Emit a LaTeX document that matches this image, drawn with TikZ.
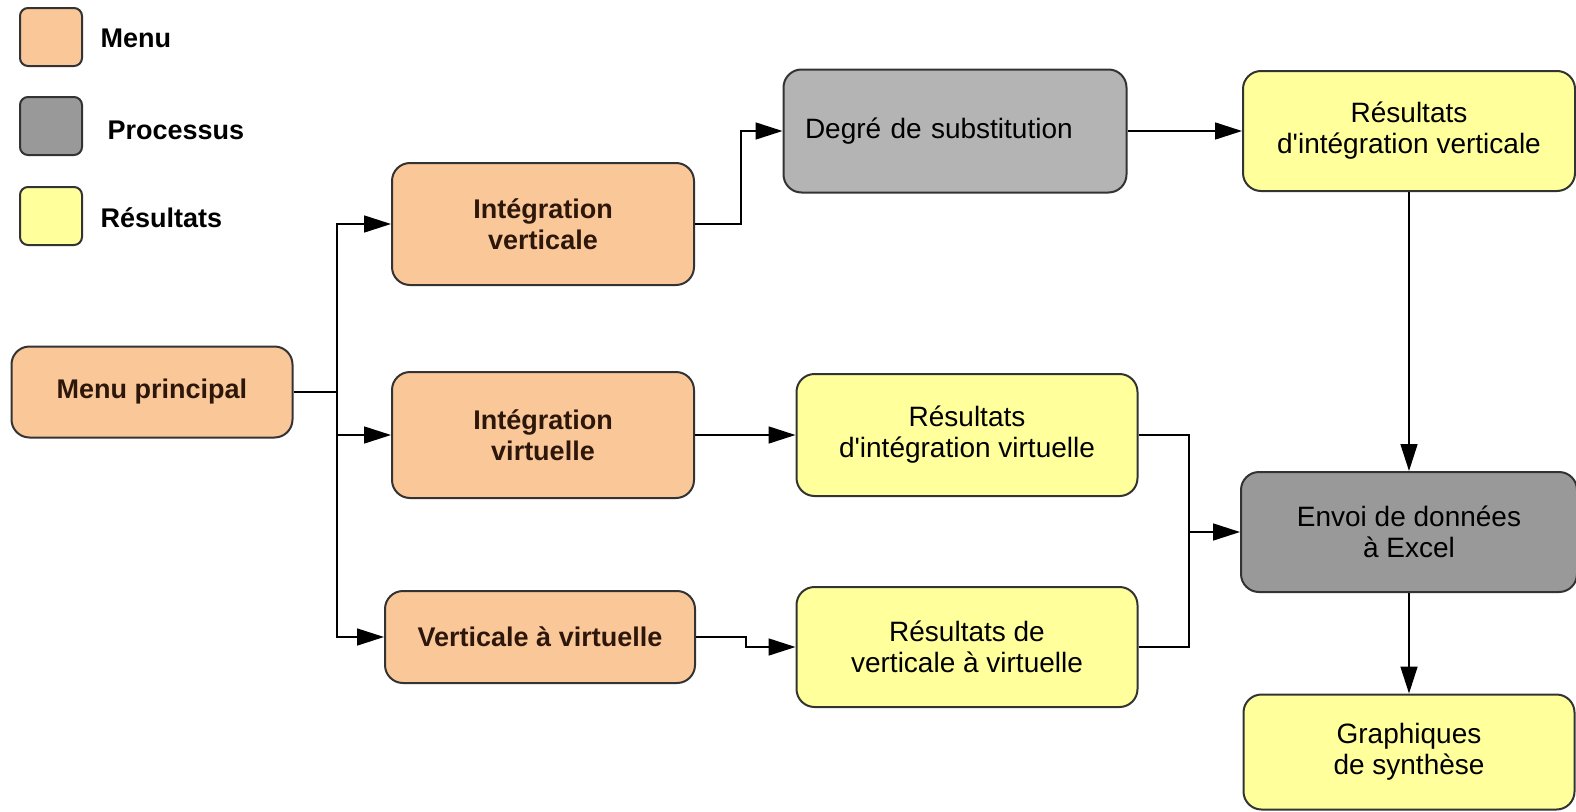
\documentclass[tikz,border=0pt]{standalone}
\usepackage{fontspec}
\setmainfont{Liberation Sans}
\usetikzlibrary{arrows.meta}
\definecolor{menucol}{RGB}{250,200,152}
\definecolor{proclight}{RGB}{180,180,180}
\definecolor{procdark}{RGB}{153,153,153}
\definecolor{rescol}{RGB}{255,255,155}
\definecolor{menutext}{RGB}{45,22,10}
\begin{document}
\begin{tikzpicture}[x=1pt, y=-1pt,
    box/.style={draw=black!80, line width=2pt, rounded corners=18pt, align=center,
      inner sep=0pt, font=\fontsize{28}{31}\selectfont},
    menu/.style={box, fill=menucol, text=menutext, font=\bfseries\fontsize{27}{31}\selectfont},
    proc/.style={box, fill=proclight},
    res/.style={box, fill=rescol},
    legbox/.style={draw=black!80, line width=2pt, rounded corners=8pt,
      minimum width=62pt, minimum height=58pt},
    legtext/.style={anchor=west, font=\bfseries\fontsize{27}{31}\selectfont},
    arr/.style={-{Triangle[length=27pt,width=17pt]}, line width=1.6pt},
    link/.style={line width=1.6pt}]
    \useasboundingbox (0,0) rectangle (1576,811);

    % legende
    \node[legbox, fill=menucol] (lmenu) at (51,37) {};
    \node[legtext] (tmenu) at (97,38) {Menu};
    \node[legbox, fill=procdark] (lproc) at (51,126) {};
    \node[legtext] (tproc) at (104,130) {Processus};
    \node[legbox, fill=rescol] (lres) at (51,216) {};
    \node[legtext] (tres) at (97,218) {Résultats};

    % menus
    \node[menu, minimum width=281pt, minimum height=91pt] (mp) at (152,392) {Menu principal};
    \node[menu, minimum width=302pt, minimum height=122pt] (iv) at (543,224) {Intégration\\verticale};
    \node[menu, minimum width=302pt, minimum height=126pt] (ivi) at (543,435) {Intégration\\virtuelle};
    \node[menu, minimum width=310pt, minimum height=92pt] (vv) at (540,637) {Verticale à virtuelle};

    % processus et resultats
    \node[proc, minimum width=343pt, minimum height=123pt, text width=300pt, align=left] (ds) at (955,131) {Degré de substitution};
    \node[res, minimum width=332pt, minimum height=120pt] (riv) at (1409,131) {Résultats\\d\textquotesingle intégration verticale};
    \node[res, minimum width=341pt, minimum height=122pt] (rvi) at (967,435) {Résultats\\d\textquotesingle intégration virtuelle};
    \node[res, minimum width=341pt, minimum height=120pt] (rvv) at (967,647) {Résultats de\\verticale à virtuelle};
    \node[proc, fill=procdark, minimum width=336pt, minimum height=120pt] (env) at (1409,532) {Envoi de données\\à Excel};
    \node[res, minimum width=331pt, minimum height=115pt] (gs) at (1409,752) {Graphiques\\de synthèse};

    \coordinate (fork) at (337,392);
    \coordinate (join) at (1189,532);

    \draw[arr] (mp.east) -- (fork) |- (iv.west);
    \draw[arr] (fork) |- (ivi.west);
    \draw[arr] (fork) |- (vv.west);
    \draw[arr] (iv.east) -- ++(46,0) |- (ds.west);
    \draw[arr] (ds) -- (riv);
    \draw[arr] (ivi) -- (rvi);
    \draw[arr] (vv.east) -- ++(50,0) |- (rvv.west);
    \draw[link] (rvi.east) -| (join) |- (rvv.east);
    \draw[arr] (join) -- (env.west);
    \draw[arr] (riv.south) -- (env.north);
    \draw[arr] (env.south) -- (gs.north);
\end{tikzpicture}
\end{document}
